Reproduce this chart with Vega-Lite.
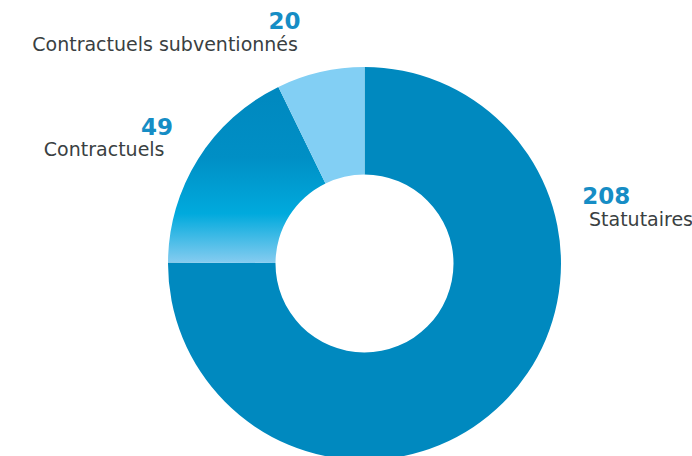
{
  "$schema": "https://vega.github.io/schema/vega-lite/v6.json",
  "width": 655,
  "height": 385,
  "autosize": "none",
  "padding": {"left": 37, "top": 71, "right": 0, "bottom": 0},
  "background": "white",
  "view": {"stroke": null},
  "data": {
    "values": [
      {"cat": "Statutaires", "value": 208, "rank": 1},
      {"cat": "Contractuels", "value": 49, "rank": 2},
      {"cat": "Contractuels subventionnés", "value": 20, "rank": 3}
    ]
  },
  "encoding": {
    "theta": {"field": "value", "type": "quantitative", "stack": true},
    "order": {"field": "rank", "type": "quantitative"},
    "detail": {"field": "cat", "type": "nominal"}
  },
  "layer": [
    {
      "mark": {"type": "arc", "radius": 196.5, "radius2": 89},
      "encoding": {
        "color": {
          "condition": {
            "test": "datum.cat === 'Contractuels'",
            "value": {
              "gradient": "linear",
              "x1": 0, "y1": 0, "x2": 0, "y2": 1,
              "stops": [
                {"offset": 0, "color": "#0088bf"},
                {"offset": 0.4, "color": "#008fc5"},
                {"offset": 0.72, "color": "#00aadd"},
                {"offset": 1, "color": "#86ccf0"}
              ]
            }
          },
          "field": "cat",
          "type": "nominal",
          "scale": {
            "domain": ["Statutaires", "Contractuels", "Contractuels subventionnés"],
            "range": ["#0089bf", "#00a9dc", "#82cff4"]
          },
          "legend": null
        }
      }
    },
    {
      "mark": {"type": "text", "radius": 225.7, "thetaOffset": -1.054, "align": "left", "baseline": "alphabetic", "font": "DejaVu Sans", "fontWeight": "bold", "fontSize": 23, "color": "#168dc5"},
      "encoding": {"text": {"condition": {"test": "datum.cat !== 'Statutaires'", "value": ""}, "field": "value", "type": "quantitative"}}
    },
    {
      "mark": {"type": "text", "radius": 227.6, "thetaOffset": -0.953, "align": "left", "baseline": "alphabetic", "font": "DejaVu Sans", "fontSize": 19, "color": "#3a3f42"},
      "encoding": {"text": {"condition": {"test": "datum.cat !== 'Statutaires'", "value": ""}, "field": "cat", "type": "nominal"}}
    },
    {
      "mark": {"type": "text", "radius": 230.5, "thetaOffset": 0.029, "align": "right", "baseline": "alphabetic", "font": "DejaVu Sans", "fontWeight": "bold", "fontSize": 23, "color": "#168dc5"},
      "encoding": {"text": {"condition": {"test": "datum.cat !== 'Contractuels'", "value": ""}, "field": "value", "type": "quantitative"}}
    },
    {
      "mark": {"type": "text", "radius": 227.2, "thetaOffset": -0.067, "align": "right", "baseline": "alphabetic", "font": "DejaVu Sans", "fontSize": 19, "color": "#3a3f42"},
      "encoding": {"text": {"condition": {"test": "datum.cat !== 'Contractuels'", "value": ""}, "field": "cat", "type": "nominal"}}
    },
    {
      "mark": {"type": "text", "radius": 242.6, "thetaOffset": -0.040, "align": "right", "baseline": "alphabetic", "font": "DejaVu Sans", "fontWeight": "bold", "fontSize": 23, "color": "#168dc5"},
      "encoding": {"text": {"condition": {"test": "datum.cat !== 'Contractuels subventionnés'", "value": ""}, "field": "value", "type": "quantitative"}}
    },
    {
      "mark": {"type": "text", "radius": 222.5, "thetaOffset": -0.077, "align": "right", "baseline": "alphabetic", "font": "DejaVu Sans", "fontSize": 19, "color": "#3a3f42"},
      "encoding": {"text": {"condition": {"test": "datum.cat !== 'Contractuels subventionnés'", "value": ""}, "field": "cat", "type": "nominal"}}
    }
  ]
}
